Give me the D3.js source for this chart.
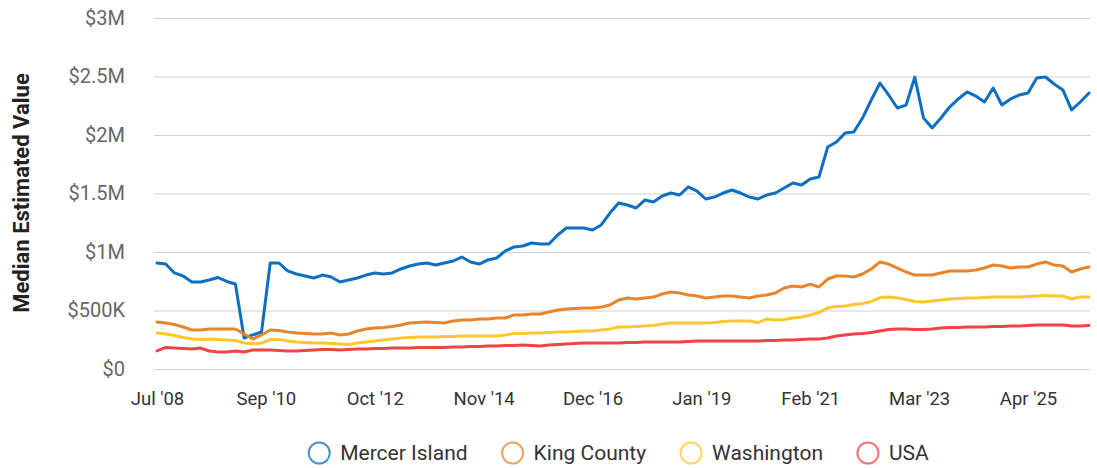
<!DOCTYPE html>
<html>
<head>
<meta charset="utf-8">
<script src="https://cdn.jsdelivr.net/npm/d3@7/dist/d3.min.js"></script>
<style>
  html, body { margin: 0; padding: 0; background: #fff; }
  svg { display: block; font-family: Roboto, "Noto Sans", sans-serif; }
</style>
</head>
<body>
<div id="chart"></div>
<script>
// values in $K, one point every 2 months starting Jul 2008
const monthStep = 2;
const seriesNames = ["Mercer Island", "King County", "Washington", "USA"];
const seriesColors = ["#0d6fc1", "#e8852b", "#fec630", "#ee4444"];
const tickMonths = [0, 25, 50, 75, 100, 125, 150, 175, 200];
const tickLabels = ["Jul '08", "Sep '10", "Oct '12", "Nov '14", "Dec '16", "Jan '19", "Feb '21", "Mar '23", "Apr '25"];
const yTicks = [0, 500, 1000, 1500, 2000, 2500, 3000];

const mercerIsland = [906, 897, 821, 795, 744, 744, 761, 782, 748, 726,
  265, 291, 316, 906, 906, 838, 812, 795, 778, 803,
  786, 744, 761, 778, 803, 821, 812, 821, 855, 880,
  897, 906, 889, 906, 923, 957, 915, 897, 932, 949,
  1009, 1043, 1051, 1077, 1068, 1068, 1145, 1205, 1205, 1205,
  1188, 1231, 1333, 1419, 1402, 1376, 1444, 1427, 1479, 1504,
  1487, 1556, 1521, 1453, 1470, 1504, 1530, 1504, 1470, 1453,
  1487, 1504, 1547, 1590, 1573, 1624, 1641, 1897, 1940, 2017,
  2026, 2145, 2299, 2444, 2342, 2231, 2256, 2495, 2145, 2060,
  2145, 2239, 2308, 2368, 2333, 2282, 2402, 2256, 2308, 2342,
  2359, 2487, 2496, 2436, 2385, 2214, 2282, 2359];

const kingCounty = [402, 393, 380, 359, 333, 333, 342, 342, 342, 342,
  299, 256, 291, 333, 329, 316, 308, 303, 299, 299,
  308, 291, 299, 325, 342, 350, 355, 363, 376, 393,
  397, 402, 397, 393, 410, 419, 419, 427, 427, 436,
  436, 462, 462, 470, 470, 487, 504, 513, 517, 521,
  521, 530, 547, 590, 607, 598, 607, 615, 641, 658,
  650, 632, 624, 607, 615, 624, 624, 615, 607, 624,
  632, 650, 692, 709, 701, 726, 701, 769, 795, 795,
  786, 812, 855, 915, 897, 863, 829, 803, 803, 803,
  821, 838, 838, 838, 846, 863, 889, 880, 863, 872,
  872, 897, 915, 889, 880, 829, 855, 872];

const washington = [308, 299, 286, 269, 256, 252, 256, 252, 248, 244,
  222, 214, 222, 252, 252, 239, 231, 226, 222, 222,
  218, 214, 209, 222, 231, 239, 248, 256, 265, 269,
  274, 274, 274, 278, 278, 282, 282, 282, 282, 282,
  291, 303, 303, 308, 308, 312, 316, 316, 321, 325,
  325, 333, 342, 359, 359, 363, 368, 372, 385, 393,
  393, 393, 393, 393, 397, 406, 410, 410, 410, 397,
  427, 419, 423, 436, 444, 462, 483, 521, 534, 538,
  551, 560, 577, 611, 615, 607, 594, 577, 573, 581,
  590, 598, 603, 607, 607, 611, 615, 615, 615, 615,
  620, 624, 628, 624, 624, 598, 615, 615];

const usa = [154, 184, 179, 175, 171, 179, 154, 145, 145, 154,
  145, 162, 162, 162, 158, 154, 154, 158, 162, 167,
  167, 162, 167, 171, 171, 175, 175, 179, 179, 179,
  184, 184, 184, 184, 188, 188, 192, 192, 197, 197,
  201, 201, 205, 201, 197, 205, 209, 214, 218, 222,
  222, 222, 222, 222, 226, 226, 231, 231, 231, 231,
  231, 235, 239, 239, 239, 239, 239, 239, 239, 239,
  244, 244, 248, 248, 252, 256, 256, 265, 282, 291,
  299, 303, 312, 325, 338, 342, 342, 338, 338, 342,
  350, 355, 355, 359, 359, 359, 363, 363, 368, 368,
  372, 376, 376, 376, 376, 368, 368, 372];

const allSeries = [mercerIsland, kingCounty, washington, usa];

const width = 1097, height = 468;
const plotLeft = 157, plotRight = 1089, plotTop = 18, plotBottom = 369;
const lastMonth = (mercerIsland.length - 1) * monthStep;

const svg = d3.select("#chart").append("svg")
    .attr("width", width)
    .attr("height", height);

let x = d3.scaleLinear().domain([0, lastMonth]).range([plotLeft, plotRight]);
let y = d3.scaleLinear().domain([0, 3000]).range([plotBottom, plotTop]);

let fmt = (v) => v === 0 ? "$0" : (v >= 1000 ? `$${ v / 1000 }M` : `$${ v }K`);

// grid + y labels
let yAxis = svg.append("g")
    .attr("transform", `translate(${ plotLeft - 3 }, 0)`)
    .call(d3.axisLeft(y).tickValues(yTicks).tickFormat(fmt)
      .tickSize(-(plotRight - plotLeft + 4)).tickPadding(29));
yAxis.select(".domain").remove();
yAxis.selectAll(".tick line").attr("stroke", "#cfcfcf").attr("stroke-width", 1.2);
yAxis.selectAll(".tick text")
    .attr("fill", "#666")
    .attr("font-size", "20px")
    .attr("font-family", "Roboto, sans-serif");

// x labels
let xAxis = svg.append("g")
    .attr("transform", `translate(0, ${ plotBottom })`)
    .call(d3.axisBottom(x).tickValues(tickMonths)
      .tickFormat((d, i) => tickLabels[i]).tickSize(0).tickPadding(23));
xAxis.select(".domain").remove();
xAxis.selectAll(".tick text")
    .attr("fill", "#333")
    .attr("font-size", "18.5px")
    .attr("font-family", "Roboto, sans-serif");

svg.append("text")
    .attr("transform", `translate(29, 193) rotate(-90)`)
    .attr("text-anchor", "middle")
    .attr("font-size", "22px")
    .attr("font-weight", "bold")
    .attr("fill", "#222")
    .text("Median Estimated Value");

let line = d3.line()
    .x((d, i) => x(i * monthStep))
    .y((d) => y(d));

svg.append("g")
    .selectAll("path")
    .data(allSeries)
    .enter().append("path")
    .attr("fill", "none")
    .attr("stroke", (d, i) => seriesColors[i])
    .attr("stroke-width", 3)
    .attr("stroke-linejoin", "round")
    .attr("stroke-linecap", "round")
    .attr("d", line);

// legend
let legend = svg.append("g");
let items = legend.selectAll("g")
    .data(seriesNames)
    .enter().append("g");
items.append("circle")
    .attr("r", 10.5)
    .attr("cy", 0)
    .attr("fill", "none")
    .attr("stroke", (d, i) => seriesColors[i])
    .attr("stroke-opacity", 0.75)
    .attr("stroke-width", 2);
items.append("text")
    .attr("x", 21)
    .attr("dy", "0.35em")
    .attr("font-size", "21px")
    .attr("fill", "#333")
    .text((d) => d);

let pos = 0;
items.each(function() {
  let w = d3.select(this).select("text").node().getComputedTextLength();
  d3.select(this).attr("transform", `translate(${ pos }, 0)`);
  pos += 21 + w + 45;
});
let total = pos - 45 + 10;
legend.attr("transform", `translate(${ 619 - total / 2 + 10 }, 453)`);
</script>
</body>
</html>
